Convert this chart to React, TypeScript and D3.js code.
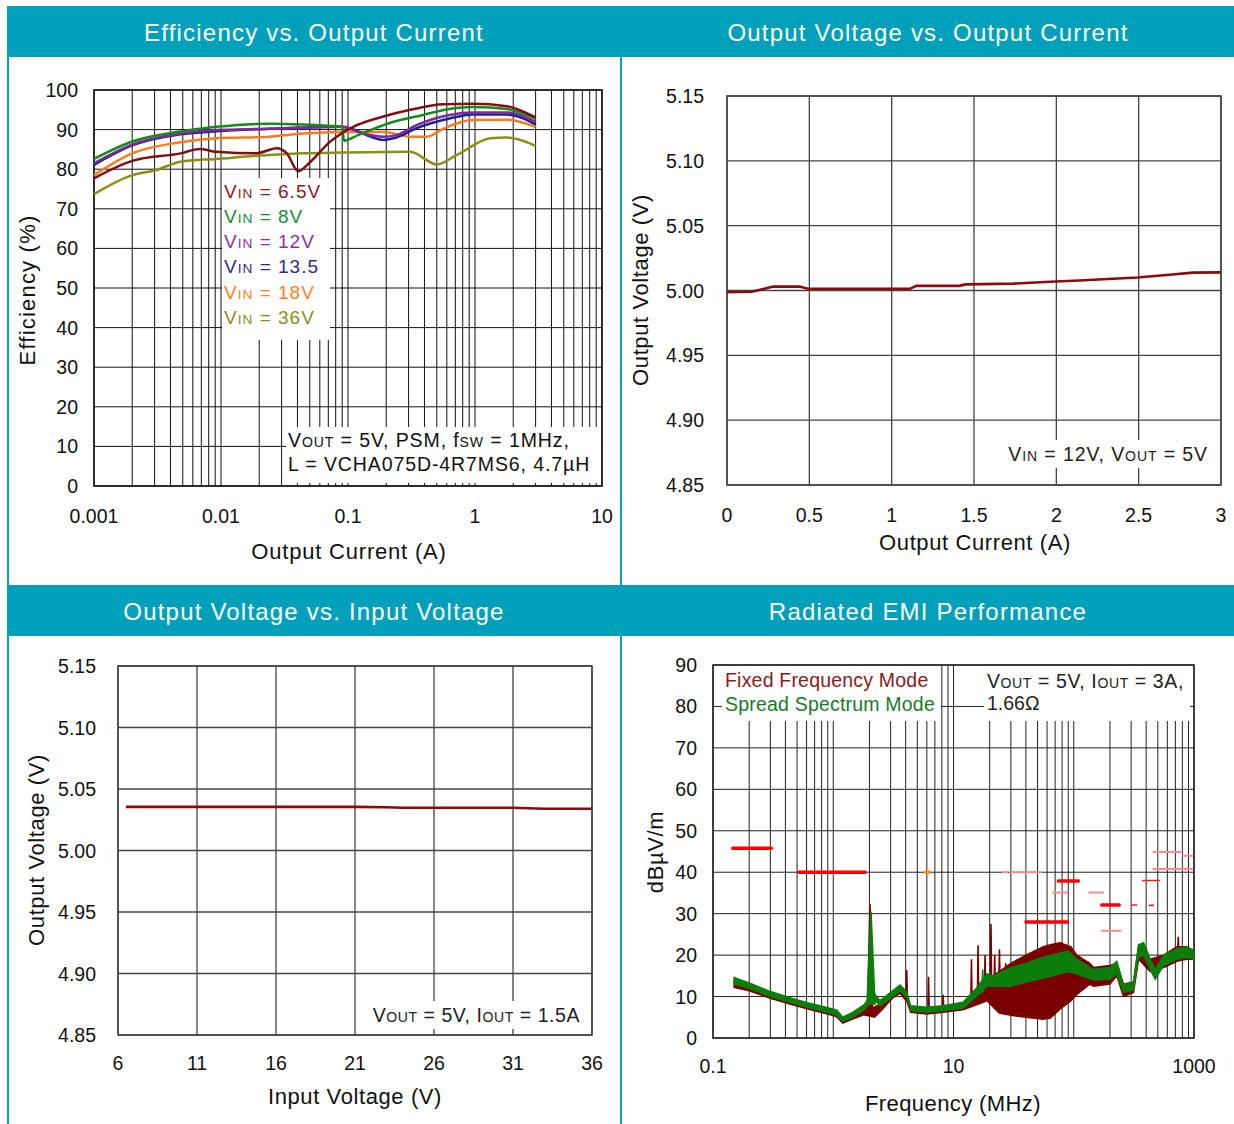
import React from 'react';
import * as d3 from 'd3';

// --- Efficiency vs. Output Current (A, %) ---
const eff65 = [[0.001, 77.7], [0.002, 82.1], [0.0048, 84.0], [0.0068, 85.1], [0.0092, 84.4], [0.019, 84.0], [0.0275, 85.3], [0.033, 84.0], [0.0405, 79.5], [0.05, 81.7], [0.072, 86.9], [0.11, 90.7], [0.19, 93.3], [0.31, 95.0], [0.56, 96.4], [0.96, 96.5], [1.78, 95.9], [3.0, 93.1]];
const eff8 = [[0.001, 82.6], [0.002, 87.0], [0.0048, 89.5], [0.0092, 90.7], [0.024, 91.5], [0.044, 91.3], [0.09, 90.7], [0.093, 87.2], [0.12, 88.6], [0.21, 91.6], [0.39, 93.7], [0.63, 95.2], [0.96, 95.7], [1.78, 95.2], [3.0, 92.8]];
const eff12 = [[0.001, 81.5], [0.002, 86.2], [0.0048, 89.0], [0.0092, 89.9], [0.024, 90.2], [0.09, 90.7], [0.13, 89.0], [0.19, 88.2], [0.24, 88.6], [0.35, 91.2], [0.63, 93.7], [0.96, 94.3], [1.78, 94.3], [3.0, 92.0]];
const eff135 = [[0.001, 81.1], [0.002, 86.0], [0.0048, 88.8], [0.0092, 89.6], [0.024, 90.2], [0.09, 90.7], [0.19, 87.4], [0.24, 88.0], [0.35, 90.4], [0.63, 92.8], [0.96, 93.8], [1.78, 93.8], [3.0, 91.3]];
const eff18 = [[0.001, 78.5], [0.002, 84.0], [0.0048, 86.8], [0.0092, 87.8], [0.024, 88.2], [0.044, 89.0], [0.09, 89.4], [0.19, 89.4], [0.31, 88.2], [0.42, 88.2], [0.56, 90.2], [0.96, 92.4], [1.78, 92.5], [3.0, 90.7]];
const eff36 = [[0.001, 73.7], [0.002, 78.5], [0.0031, 79.8], [0.0048, 81.9], [0.0092, 82.6], [0.024, 83.6], [0.044, 84.0], [0.09, 84.2], [0.31, 84.4], [0.5, 81.2], [0.72, 83.6], [1.32, 87.8], [1.78, 88.0], [3.0, 85.9]];
const effLabels = ['6.5V', '8V', '12V', '13.5', '18V', '36V'];
const effColors = ['#8b1a1a', '#1a8a3a', '#8e2fa0', '#2b2b8f', '#ff7f27', '#8c8c1e'];
const effLineColors = ['#7f1010', '#178a1a', '#7d2a98', '#1e1e9a', '#ff7a1e', '#8e8e16'];
const effXTicks = [0.001, 0.01, 0.1, 1, 10];
const effYTicks = [0, 10, 20, 30, 40, 50, 60, 70, 80, 90, 100];

// --- Output Voltage vs. Output Current ---
const voutVsIout = [[0, 4.9987], [0.15, 4.999], [0.28, 5.003], [0.44, 5.003], [0.49, 5.0013], [1.11, 5.0013], [1.15, 5.0036], [1.41, 5.0036], [1.45, 5.0047], [1.74, 5.0053], [1.96, 5.0067], [2.14, 5.0077], [2.49, 5.01], [2.67, 5.012], [2.83, 5.0138], [3.0, 5.014]];
const ioutTicks = [0, 0.5, 1, 1.5, 2, 2.5, 3];
const voutTicks = [4.85, 4.9, 4.95, 5.0, 5.05, 5.1, 5.15];

// --- Output Voltage vs. Input Voltage ---
const voutVsVin = [[6.5, 5.0355], [21, 5.0355], [23, 5.0352], [24, 5.0347], [31, 5.0347], [33, 5.034], [36, 5.034]];
const vinTicks = [6, 11, 16, 21, 26, 31, 36];

// --- Radiated EMI (MHz, dBuV/m) : [freq, low, high] ---
const emiFixed = [[0.15, 12.2, 13.8], [0.2, 11.4, 12.8], [0.3, 9.6, 10.8], [0.45, 8.1, 9.3], [0.65, 6.8, 8.0], [0.9, 5.8, 7.0], [1.07, 5.1, 6.4], [1.2, 3.6, 4.8], [1.45, 4.6, 5.9], [1.8, 5.6, 7.2], [2.2, 5, 7.5], [2.5, 6.6, 8.2], [3.1, 9.6, 10.8], [3.6, 10.8, 12.3], [4.1, 8.8, 10.3], [4.4, 6.2, 7.5], [6, 5.8, 7.0], [8.2, 6.2, 7.4], [12, 6.8, 8.2], [15.5, 8, 11], [19, 9, 14], [24, 6, 16], [30, 5.5, 18], [40, 5, 20], [56, 4.5, 22], [64, 4.8, 22.5], [77, 7, 23], [95, 9, 22], [106, 10.5, 20], [136, 13, 18], [146, 12.5, 17], [200, 13, 17.5], [228, 15, 18], [259, 10, 13], [314, 11, 13.5], [346, 19, 22], [433, 16, 19], [560, 17, 20], [720, 18.5, 22], [870, 19, 22], [1000, 19, 21]];
const emiSpread = [[0.15, 13.0, 14.6], [0.17, 12.6, 14.0], [0.2, 12.0, 13.3], [0.3, 10.0, 11.2], [0.45, 8.5, 9.6], [0.65, 7.2, 8.3], [0.9, 6.2, 7.3], [1.07, 5.5, 6.7], [1.2, 4.0, 5.0], [1.45, 5.0, 6.2], [1.8, 6.8, 8.0], [2.15, 9.5, 11], [2.45, 7.8, 9.0], [3.1, 10, 11.3], [3.6, 11.4, 12.8], [4.1, 9.8, 11], [4.4, 6.6, 7.8], [6, 6.2, 7.4], [8.2, 6.6, 7.8], [12, 7.2, 8.6], [15.5, 10, 12], [19, 12.5, 15.5], [21.5, 12.5, 15], [30, 12.5, 17], [40, 13.5, 18], [56, 14.5, 19.5], [77, 15.5, 20.5], [90, 16, 21], [106, 15.5, 19], [146, 14, 16.5], [200, 14.2, 17], [228, 15.5, 18.5], [259, 11, 12.8], [314, 11.6, 13.5], [346, 19.5, 22.5], [381, 20, 23], [433, 16.5, 19], [476, 14.2, 16.5], [560, 17.5, 20], [720, 19, 21.5], [870, 19.5, 22], [1000, 19, 21]];
// spikes: [freq, base, peak]
const fixedSpikes = [[2.02, 6, 32.3], [4.08, 10, 16.4], [6.2, 7, 14.8], [8.2, 7, 10.4], [14.1, 8, 19], [16.0, 9, 22.4], [18.3, 10, 20], [20.5, 12, 27.5], [22.0, 12, 20], [24.1, 13, 21.4], [27.2, 14, 18], [35, 15, 18], [46, 16, 19], [740, 20, 24.4]];
const spreadSpikes = [[2.06, 8, 30.5], [17.5, 11, 16.5]];
// limits: [fStart, fEnd, level, kind]
const emiLimits = [
  [0.146, 0.305, 45.8, 'R'], [0.52, 1.84, 40.0, 'R'], [5.9, 6.2, 40, 'o'],
  [25.9, 28, 40, 'p'], [30, 53, 40, 'p'], [74.4, 109, 37.9, 'R'], [67.6, 88.3, 35.1, 'p'],
  [40.1, 88.8, 28, 'R'], [135, 176, 35.1, 'p'], [171, 239, 32.1, 'R'], [171, 245, 25.9, 'p'],
  [303, 333, 32.1, 'r'], [426, 459, 32, 'r'], [374, 514, 38, 'r'],
  [459, 770, 44.9, 'p'], [810, 970, 44, 'p'], [459, 970, 40.8, 'p'],
];
const emiXLabels = [0.1, 10, 1000];
const emiYTicks = [0, 10, 20, 30, 40, 50, 60, 70, 80, 90];

const TEAL = '#00a0ba';
const FONT = '"Liberation Sans", Arial, sans-serif';
const TICK = 19.5;
const TITLE = 22;

function logMinors(from: number, to: number) {
  const out: number[] = [];
  for (let d = from; d < to; d *= 10) for (let k = 1; k <= 9; k++) out.push(d * k);
  out.push(to);
  return out;
}

const Sub = ({ t, s }: { t: string, s: string }) => (
  <>{t}<tspan fontSize="0.72em">{s}</tspan></>
);

const EfficiencyChart = () => {
  const x = d3.scaleLog().domain([0.001, 10]).range([94, 602]);
  const y = d3.scaleLinear().domain([0, 100]).range([486, 90]);
  const line = d3.line<number[]>().x(d => x(d[0])).y(d => y(d[1])).curve(d3.curveMonotoneX);
  const series = [eff65, eff8, eff12, eff135, eff18, eff36];
  const drawOrder = [5, 4, 3, 2, 1, 0];
  return (
    <g>
      {logMinors(0.001, 10).map((v, i) => (
        <line key={'v' + i} x1={x(v)} x2={x(v)} y1={90} y2={486} stroke="#111" strokeWidth={1} />
      ))}
      {effYTicks.map(v => (
        <line key={'h' + v} x1={94} x2={602} y1={y(v)} y2={y(v)} stroke="#111" strokeWidth={1} />
      ))}
      <rect x={94} y={90} width={508} height={396} fill="none" stroke="#111" strokeWidth={1.5} />
      <rect x={222} y={178} width={108} height={162} fill="#fff" />
      <rect x={286} y={427} width={315} height={56} fill="#fff" />
      {drawOrder.map(i => (
        <path key={i} d={line(series[i] as any) || ''} fill="none" stroke={effLineColors[i]} strokeWidth={2.5} />
      ))}
      {effLabels.map((l, i) => (
        <text key={l} x={224} y={191 + i * 25.2} dy="0.36em" fontSize={19} letterSpacing={1} fill={effColors[i]}>
          <Sub t="V" s="IN" /> = {l}
        </text>
      ))}
      <text x={288} y={440} dy="0.36em" fontSize={TICK} letterSpacing={0.9} fill="#111">
        <Sub t="V" s="OUT" /> = 5V, PSM, f<tspan fontSize="0.72em">SW</tspan> = 1MHz,
      </text>
      <text x={288} y={464} dy="0.36em" fontSize={TICK} letterSpacing={0.9} fill="#111">L = VCHA075D-4R7MS6, 4.7µH</text>
      {effYTicks.map(v => (
        <text key={'yl' + v} x={78} y={y(v)} dy="0.36em" textAnchor="end" fontSize={TICK} fill="#111">{v}</text>
      ))}
      {effXTicks.map(v => (
        <text key={'xl' + v} x={x(v)} y={516} dy="0.36em" textAnchor="middle" fontSize={TICK} fill="#111">{String(v)}</text>
      ))}
      <text x={349} y={551} dy="0.36em" textAnchor="middle" fontSize={TITLE} letterSpacing={0.8} fill="#111">Output Current (A)</text>
      <text transform="translate(27,290) rotate(-90)" dy="0.36em" textAnchor="middle" fontSize={TITLE} letterSpacing={1.2} fill="#111">Efficiency (%)</text>
    </g>
  );
};

const VoutIoutChart = () => {
  const x = d3.scaleLinear().domain([0, 3]).range([727, 1221]);
  const y = d3.scaleLinear().domain([4.85, 5.15]).range([485, 96]);
  const line = d3.line<number[]>().x(d => x(d[0])).y(d => y(d[1]));
  return (
    <g>
      {ioutTicks.map(v => (
        <line key={'v' + v} x1={x(v)} x2={x(v)} y1={96} y2={485} stroke="#444" strokeWidth={1.3} />
      ))}
      {voutTicks.map(v => (
        <line key={'h' + v} x1={727} x2={1221} y1={y(v)} y2={y(v)} stroke="#444" strokeWidth={1.3} />
      ))}
      <rect x={727} y={96} width={494} height={389} fill="none" stroke="#444" strokeWidth={1.5} />
      <path d={line(voutVsIout as any) || ''} fill="none" stroke="#8b0a0a" strokeWidth={2.6} />
      <rect x={1000} y={440} width={216} height={28} fill="#fff" />
      <text x={1208} y={454} dy="0.36em" textAnchor="end" fontSize={TICK} letterSpacing={0.9} fill="#222">
        <Sub t="V" s="IN" /> = 12V, <Sub t="V" s="OUT" /> = 5V
      </text>
      {voutTicks.map(v => (
        <text key={'yl' + v} x={704} y={y(v)} dy="0.36em" textAnchor="end" fontSize={TICK} fill="#111">{v.toFixed(2)}</text>
      ))}
      {ioutTicks.map(v => (
        <text key={'xl' + v} x={x(v)} y={515} dy="0.36em" textAnchor="middle" fontSize={TICK} fill="#111">{String(v)}</text>
      ))}
      <text x={975} y={542} dy="0.36em" textAnchor="middle" fontSize={TITLE} letterSpacing={0.6} fill="#111">Output Current (A)</text>
      <text transform="translate(640,290) rotate(-90)" dy="0.36em" textAnchor="middle" fontSize={TITLE} letterSpacing={0.6} fill="#111">Output Voltage (V)</text>
    </g>
  );
};

const VoutVinChart = () => {
  const x = d3.scaleLinear().domain([6, 36]).range([118, 592]);
  const y = d3.scaleLinear().domain([4.85, 5.15]).range([1035, 666]);
  const line = d3.line<number[]>().x(d => x(d[0])).y(d => y(d[1]));
  return (
    <g>
      {vinTicks.map(v => (
        <line key={'v' + v} x1={x(v)} x2={x(v)} y1={666} y2={1035} stroke="#444" strokeWidth={1.3} />
      ))}
      {voutTicks.map(v => (
        <line key={'h' + v} x1={118} x2={592} y1={y(v)} y2={y(v)} stroke="#444" strokeWidth={1.3} />
      ))}
      <rect x={118} y={666} width={474} height={369} fill="none" stroke="#444" strokeWidth={1.5} />
      <path d={line(voutVsVin as any) || ''} fill="none" stroke="#8b0a0a" strokeWidth={2.6} />
      <rect x={366} y={1001} width={222} height={28} fill="#fff" />
      <text x={580} y={1015} dy="0.36em" textAnchor="end" fontSize={TICK} letterSpacing={0.55} fill="#222">
        <Sub t="V" s="OUT" /> = 5V, <Sub t="I" s="OUT" /> = 1.5A
      </text>
      {voutTicks.map(v => (
        <text key={'yl' + v} x={96} y={y(v)} dy="0.36em" textAnchor="end" fontSize={TICK} fill="#111">{v.toFixed(2)}</text>
      ))}
      {vinTicks.map(v => (
        <text key={'xl' + v} x={x(v)} y={1063} dy="0.36em" textAnchor="middle" fontSize={TICK} fill="#111">{String(v)}</text>
      ))}
      <text x={355} y={1096} dy="0.36em" textAnchor="middle" fontSize={TITLE} letterSpacing={0.6} fill="#111">Input Voltage (V)</text>
      <text transform="translate(36,850) rotate(-90)" dy="0.36em" textAnchor="middle" fontSize={TITLE} letterSpacing={0.6} fill="#111">Output Voltage (V)</text>
    </g>
  );
};

const EmiChart = () => {
  const x = d3.scaleLog().domain([0.1, 1000]).range([713, 1194]);
  const y = d3.scaleLinear().domain([0, 90]).range([1038, 665]);
  const band = d3.area<number[]>().x(d => x(d[0])).y0(d => y(d[1])).y1(d => y(d[2]));
  const spike = (s: number[], w: number) =>
    `M${x(s[0] / w)},${y(s[1])}L${x(s[0])},${y(s[2])}L${x(s[0] * w)},${y(s[1])}`;
  const limitStyle: Record<string, { c: string, w: number }> = {
    R: { c: '#ff0000', w: 3.5 }, r: { c: '#ff1a1a', w: 1.6 }, p: { c: '#ff8a8a', w: 2 }, o: { c: '#ff8c1a', w: 4 },
  };
  return (
    <g>
      {logMinors(0.1, 1000).map((v, i) => (
        <line key={'v' + i} x1={x(v)} x2={x(v)} y1={665} y2={1038} stroke="#222" strokeWidth={1} />
      ))}
      {emiYTicks.map(v => (
        <line key={'h' + v} x1={713} x2={1194} y1={y(v)} y2={y(v)} stroke="#222" strokeWidth={1} />
      ))}
      <rect x={713} y={665} width={481} height={373} fill="none" stroke="#222" strokeWidth={1.5} />
      <rect x={722} y={666} width={219} height={55} fill="#fff" />
      <rect x={984} y={666} width={206} height={55} fill="#fff" />
      <path d={band(emiFixed as any) || ''} fill="#7a0000" stroke="#7a0000" strokeWidth={1.5} />
      {fixedSpikes.map((s, i) => (
        <path key={'fs' + i} d={spike(s, i === 0 ? 1.05 : 1.012)} fill="#7a0000" stroke="#7a0000" strokeWidth={1.6} />
      ))}
      <path d={band(emiSpread as any) || ''} fill="#0a7d0a" stroke="#0a7d0a" strokeWidth={1.5} />
      {spreadSpikes.map((s, i) => (
        <path key={'ss' + i} d={spike(s, i === 0 ? 1.08 : 1.015)} fill="#0a7d0a" stroke="#0a7d0a" strokeWidth={1.6} />
      ))}
      {emiLimits.map((l, i) => {
        const st = limitStyle[l[3] as string];
        return (
          <line key={'l' + i} x1={x(l[0] as number)} x2={x(l[1] as number)} y1={y(l[2] as number)} y2={y(l[2] as number)}
            stroke={st.c} strokeWidth={st.w} strokeLinecap="round" />
        );
      })}
      <text x={725} y={680} dy="0.36em" fontSize={TICK} letterSpacing={0.2} fill="#8b1a1a">Fixed Frequency Mode</text>
      <text x={725} y={704} dy="0.36em" fontSize={TICK} letterSpacing={0.2} fill="#1a7a2a">Spread Spectrum Mode</text>
      <text x={987} y={681} dy="0.36em" fontSize={TICK} letterSpacing={0.6} fill="#222">
        <Sub t="V" s="OUT" /> = 5V, <Sub t="I" s="OUT" /> = 3A,
      </text>
      <text x={987} y={703} dy="0.36em" fontSize={TICK} fill="#222">1.66Ω</text>
      {emiYTicks.map(v => (
        <text key={'yl' + v} x={697} y={y(v)} dy="0.36em" textAnchor="end" fontSize={TICK} fill="#111">{v}</text>
      ))}
      {emiXLabels.map(v => (
        <text key={'xl' + v} x={x(v)} y={1066} dy="0.36em" textAnchor="middle" fontSize={TICK} fill="#111">{String(v)}</text>
      ))}
      <text x={953} y={1103} dy="0.36em" textAnchor="middle" fontSize={TITLE} letterSpacing={0.4} fill="#111">Frequency (MHz)</text>
      <text transform="translate(655,852) rotate(-90)" dy="0.36em" textAnchor="middle" fontSize={TITLE} letterSpacing={0.6} fill="#111">dBµV/m</text>
    </g>
  );
};

const headers = [
  { label: 'Efficiency vs. Output Current', cx: 314, cy: 32 },
  { label: 'Output Voltage vs. Output Current', cx: 928, cy: 32 },
  { label: 'Output Voltage vs. Input Voltage', cx: 314, cy: 611 },
  { label: 'Radiated EMI Performance', cx: 928, cy: 611 },
];

export default function App() {
  return (
    <svg width={1234} height={1124} style={{ position: 'absolute', left: 0, top: 0, background: '#fff' }} fontFamily={FONT}>
      <rect x={0} y={0} width={1234} height={1124} fill="#fff" />
      <rect x={7} y={6} width={1227} height={51} fill={TEAL} />
      <rect x={7} y={585} width={1227} height={51} fill={TEAL} />
      <rect x={7} y={6} width={2} height={1118} fill={TEAL} />
      <rect x={620} y={6} width={2} height={1118} fill={TEAL} />
      {headers.map(h => (
        <text key={h.label} x={h.cx} y={h.cy} dy="0.36em" textAnchor="middle" fontSize={24} letterSpacing={1.2} fill="#fff">{h.label}</text>
      ))}
      <EfficiencyChart />
      <VoutIoutChart />
      <VoutVinChart />
      <EmiChart />
    </svg>
  );
}
